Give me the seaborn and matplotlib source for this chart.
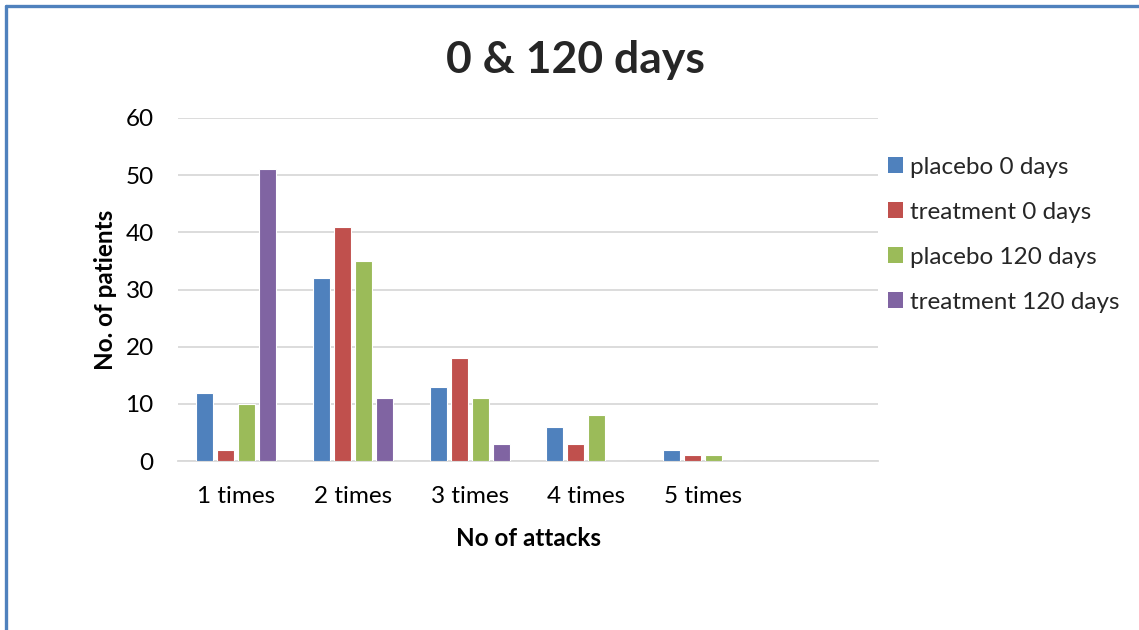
import matplotlib
matplotlib.use("Agg")
import matplotlib.pyplot as plt
from matplotlib.lines import Line2D
from matplotlib.patches import Patch
import seaborn as sns
import pandas as pd

# Number of patients by number of attacks, at day 0 and day 120
categories = ["1 times", "2 times", "3 times", "4 times", "5 times"]
placebo_0 = [12, 32, 13, 6, 2]
treatment_0 = [2, 41, 18, 3, 1]
placebo_120 = [10, 35, 11, 8, 1]
treatment_120 = [51, 11, 3, 0, 0]
series_names = ["placebo 0 days", "treatment 0 days", "placebo 120 days", "treatment 120 days"]
series_colors = ["#4F81BD", "#C0504D", "#9BBB59", "#8064A2"]
y_ticks = [0, 10, 20, 30, 40, 50, 60]

rows = []
for name, vals in zip(series_names, [placebo_0, treatment_0, placebo_120, treatment_120]):
    for cat, v in zip(categories, vals):
        rows.append({"attacks": cat, "series": name, "patients": v})
df = pd.DataFrame(rows)

sns.set_theme(style="white")
plt.rcParams["font.family"] = ["Lato", "DejaVu Sans"]

fig = plt.figure(figsize=(11.39, 6.30), dpi=100)
ax = fig.add_axes([0.1563, 0.268, 0.6146, 0.5447])

sns.barplot(data=df, x="attacks", y="patients", hue="series", order=categories,
            hue_order=series_names, palette=series_colors, saturation=1,
            width=0.72, gap=0.19, edgecolor="white", linewidth=0.8,
            ax=ax, legend=False, zorder=3)

ax.set_xlim(-0.5, 5.5)
ax.set_ylim(0, 60)
ax.set_yticks(y_ticks)
ax.yaxis.grid(True, color="#D9D9D9", linewidth=1.3, zorder=0)
ax.set_axisbelow(True)
for side in ["top", "right", "left"]:
    ax.spines[side].set_visible(False)
ax.spines["bottom"].set_color("#D9D9D9")
ax.spines["bottom"].set_linewidth(1.3)
ax.tick_params(axis="both", length=0, labelsize=17.5, colors="black")
ax.tick_params(axis="y", pad=17.5)
ax.tick_params(axis="x", pad=18)

ax.set_xlabel("No of attacks", fontsize=17.5, fontweight="bold", labelpad=14, color="black")
ax.set_ylabel("No. of patients", fontsize=17.5, fontweight="bold", labelpad=6, color="black")
fig.text(0.505, 0.905, "0 & 120 days", ha="center", va="center",
         fontsize=32, fontweight="bold")

handles = [Patch(facecolor=c, edgecolor="none") for c in series_colors]
fig.legend(handles, series_names, loc="upper left", bbox_to_anchor=(0.771, 0.767),
           frameon=False, fontsize=17.5, handlelength=0.62, handleheight=0.62,
           handletextpad=0.29, labelspacing=0.99, borderaxespad=0)

# page border around the chart
fig.add_artist(Line2D([0.0053, 1.0], [0.9905, 0.9905], color="#4F81BD", linewidth=2.4,
                      transform=fig.transFigure))
fig.add_artist(Line2D([0.0053, 0.0053], [0.0, 0.9905], color="#4F81BD", linewidth=2.4,
                      transform=fig.transFigure))

fig.savefig("out.png", dpi=100, facecolor="white")
